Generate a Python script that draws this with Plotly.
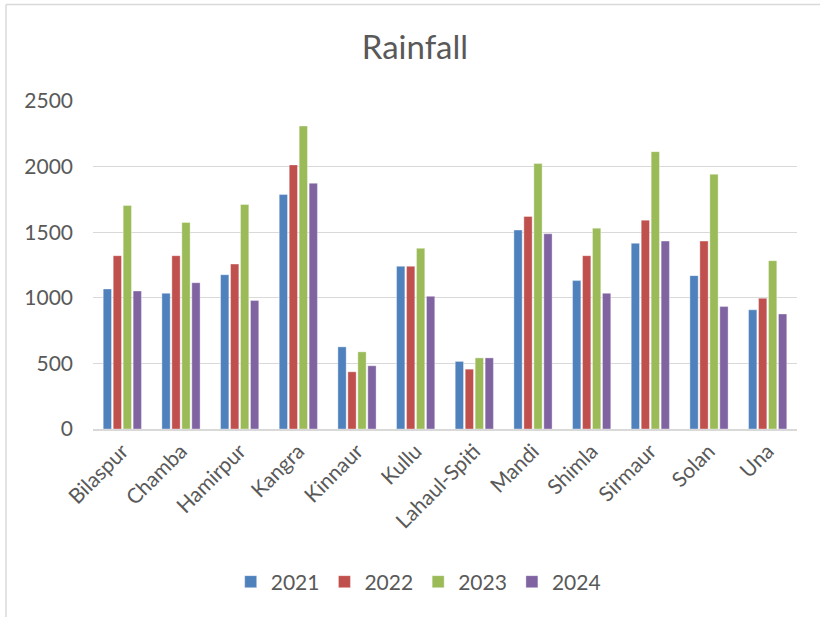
import plotly.graph_objects as go

districts = ["Bilaspur", "Chamba", "Hamirpur", "Kangra", "Kinnaur", "Kullu",
             "Lahaul-Spiti", "Mandi", "Shimla", "Sirmaur", "Solan", "Una"]
years = ["2021", "2022", "2023", "2024"]
r2021 = [1067, 1034, 1176, 1787, 626, 1240, 515, 1516, 1131, 1415, 1169, 908]
r2022 = [1321, 1321, 1257, 2013, 436, 1240, 456, 1620, 1321, 1592, 1432, 996]
r2023 = [1704, 1574, 1711, 2309, 588, 1377, 542, 2023, 1531, 2114, 1942, 1283]
r2024 = [1052, 1115, 979, 1873, 482, 1011, 542, 1488, 1034, 1432, 933, 877]
colors = ["#4F81BD", "#C0504D", "#9BBB59", "#8064A2"]

FONT = "Lato, 'Open Sans', sans-serif"
TXT = "#595959"

fig = go.Figure()
for name, vals, c in zip(years, [r2021, r2022, r2023, r2024], colors):
    fig.add_trace(go.Bar(x=districts, y=vals, name=name,
                         marker=dict(color=c, line=dict(color="rgba(255,255,255,0.6)", width=0.6))))

fig.update_layout(
    width=820, height=617,
    margin=dict(l=93, r=23, t=101, b=188),
    paper_bgcolor="white", plot_bgcolor="white",
    barmode="group", bargap=0.32, bargroupgap=0.17,
    font=dict(family=FONT, color=TXT),
    title=dict(text="Rainfall", x=0.506, xanchor="center", y=1 - 47/617, yanchor="middle",
               font=dict(size=33, color=TXT, family=FONT)),
    legend=dict(orientation="h", xref="container", yref="container",
                x=0.51, xanchor="center", y=1 - 582/617, yanchor="middle",
                font=dict(size=21, color=TXT), itemwidth=30, traceorder="normal"),
    xaxis=dict(tickangle=-45, tickfont=dict(size=21, color=TXT), showgrid=False,
               showline=True, linecolor="#D9D9D9", linewidth=1.5, ticks="",
               range=[-0.5, 11.5]),
    yaxis=dict(range=[0, 2500], dtick=500, tickfont=dict(size=21, color=TXT),
               showgrid=True, gridcolor="#D9D9D9", gridwidth=1, zeroline=False,
               showline=False, ticklabelstandoff=19),
    shapes=[
        dict(type="line", xref="paper", yref="paper", x0=-0.1236, x1=1.04, y0=1.294, y1=1.294,
             line=dict(color="#D9D9D9", width=1.5)),
        dict(type="line", xref="paper", yref="paper", x0=-0.1236, x1=-0.1236, y0=1.294, y1=-0.6,
             line=dict(color="#D9D9D9", width=1.5)),
    ],
)

fig.write_html("out.html", config={"displayModeBar": False},
               post_script="document.body.style.margin='0';")
